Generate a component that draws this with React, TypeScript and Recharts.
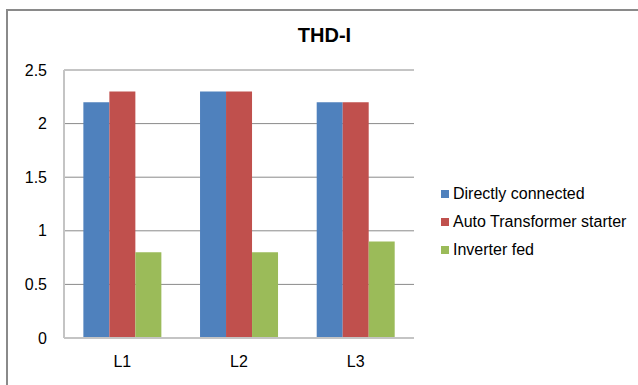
import { BarChart, Bar, XAxis, YAxis, CartesianGrid, Legend } from "recharts";

const categories = ["L1", "L2", "L3"];
const seriesNames = ["Directly connected", "Auto Transformer starter", "Inverter fed"];
const directlyConnected = [2.2, 2.3, 2.2];
const autoTransformer = [2.3, 2.3, 2.2];
const inverterFed = [0.8, 0.8, 0.9];
const yTicks = [0, 0.5, 1, 1.5, 2, 2.5];

const FONT = '"Liberation Sans", Arial, sans-serif';

const data = categories.map((name, i) => ({
  name,
  direct: directlyConnected[i],
  auto: autoTransformer[i],
  inverter: inverterFed[i],
}));

// keep legend entries in series order rather than alphabetical
function LegendList({ payload }: any) {
  const items = [...(payload ?? [])].sort(
    (a: any, b: any) => seriesNames.indexOf(a.value) - seriesNames.indexOf(b.value)
  );
  return (
    <div style={{ fontFamily: FONT, fontSize: 16, color: "#000" }}>
      {items.map((p: any) => (
        <div key={p.value} style={{ display: "flex", alignItems: "center", height: 28 }}>
          <span style={{ width: 8, height: 8, background: p.color, marginRight: 4, display: "inline-block" }} />
          {p.value}
        </div>
      ))}
    </div>
  );
}

export default function App() {
  return (
    <div style={{ position: "absolute", left: 0, top: 0, width: 638, height: 385, background: "#fff", overflow: "hidden" }}>
      <div
        style={{
          position: "absolute", left: 6, top: 9, width: 700, height: 500,
          borderTop: "2px solid #8a8a8a", borderLeft: "2px solid #8a8a8a",
        }}
      />
      <div
        style={{
          position: "absolute", left: 0, width: 649, top: 24, textAlign: "center",
          fontFamily: FONT, fontSize: 20, fontWeight: "bold", color: "#000",
        }}
      >
        THD-I
      </div>
      <BarChart
        width={638}
        height={385}
        data={data}
        margin={{ top: 70, right: 224, bottom: 0, left: 0 }}
        barCategoryGap="16.6%"
        barGap={0}
        style={{ position: "absolute", left: 0, top: 0 }}
      >
        <CartesianGrid vertical={false} stroke="#8a8a8a" />
        <XAxis
          dataKey="name"
          height={47}
          tickLine={false}
          tickSize={0}
          tickMargin={18}
          axisLine={{ stroke: "#c4c4c4", strokeWidth: 2 }}
          tick={{ fill: "#000", fontSize: 16, fontFamily: FONT }}
        />
        <YAxis
          width={64}
          domain={[0, 2.5]}
          ticks={yTicks}
          tickLine={false}
          tickSize={0}
          tickMargin={17}
          axisLine={{ stroke: "#c4c4c4", strokeWidth: 2 }}
          tick={{ fill: "#000", fontSize: 16, fontFamily: FONT }}
        />
        <Legend
          layout="vertical"
          align="center"
          verticalAlign="middle"
          content={<LegendList />}
          wrapperStyle={{ left: 441, top: 180, width: 200 }}
        />
        <Bar dataKey="direct" name={seriesNames[0]} fill="#4F81BD" isAnimationActive={false} />
        <Bar dataKey="auto" name={seriesNames[1]} fill="#C0504D" isAnimationActive={false} />
        <Bar dataKey="inverter" name={seriesNames[2]} fill="#9BBB59" isAnimationActive={false} />
      </BarChart>
    </div>
  );
}
